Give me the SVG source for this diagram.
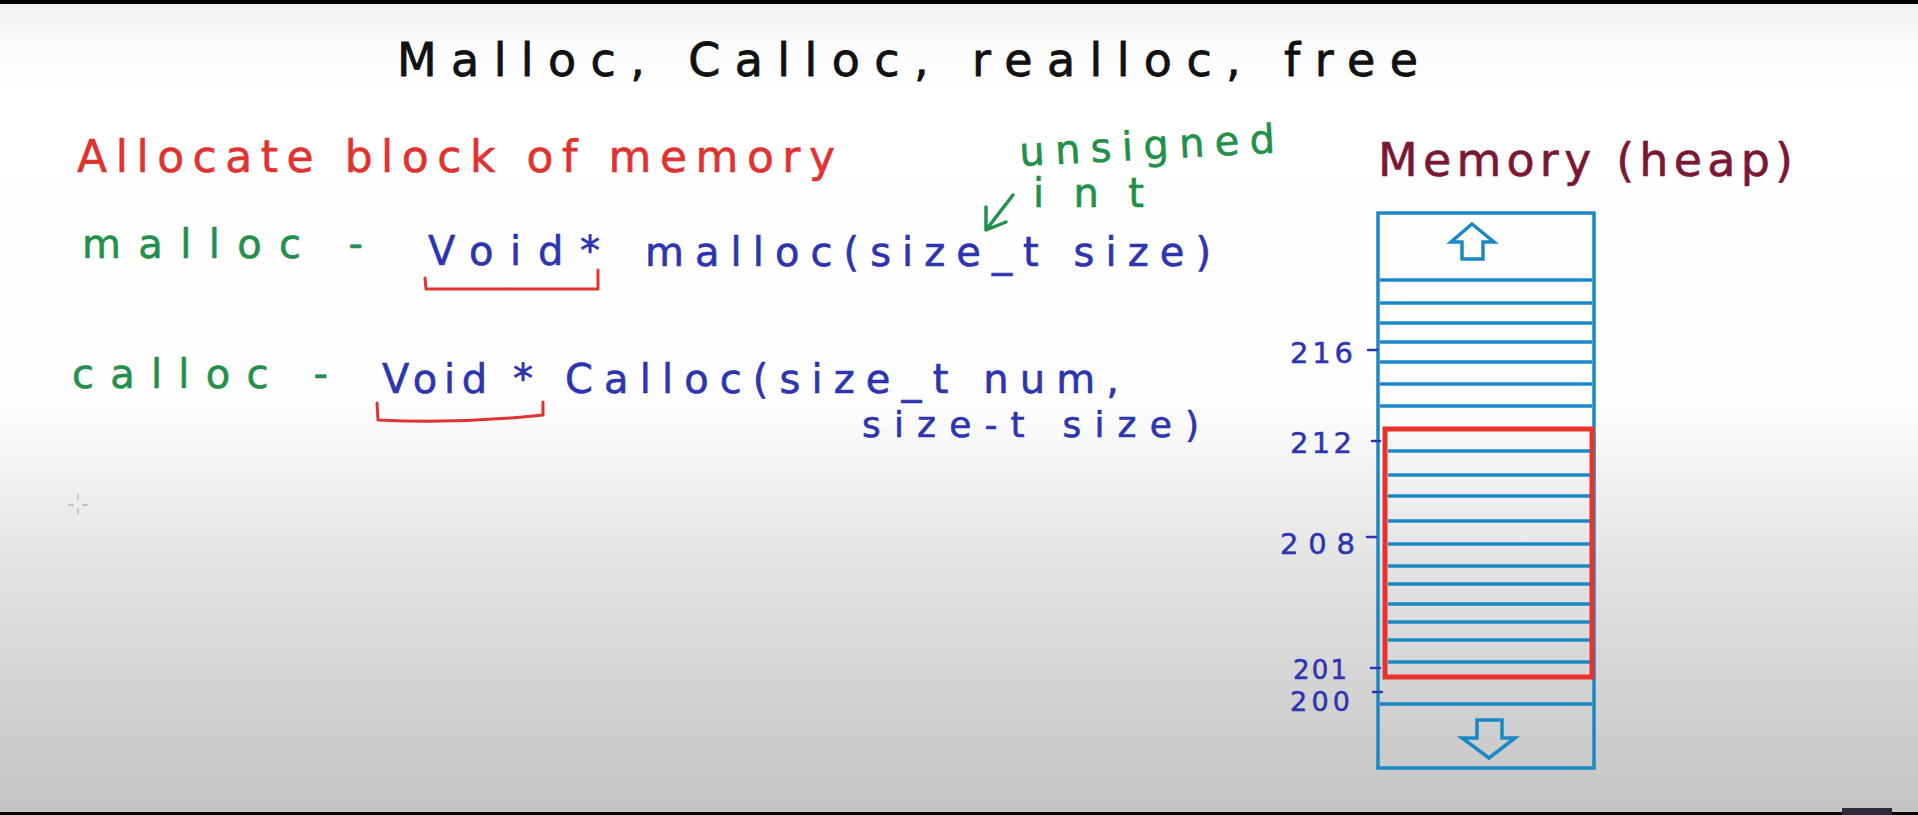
<svg xmlns="http://www.w3.org/2000/svg" width="1918" height="815" viewBox="0 0 1918 815">
<defs>
<linearGradient id="bg" x1="0" y1="0" x2="0" y2="1">
<stop offset="0" stop-color="#efefef"/>
<stop offset="0.05" stop-color="#fbfbfb"/>
<stop offset="0.12" stop-color="#ffffff"/>
<stop offset="0.5" stop-color="#fdfdfd"/>
<stop offset="0.7" stop-color="#e2e2e2"/>
<stop offset="1" stop-color="#c4c4c4"/>
</linearGradient>
<style>
text{font-family:"DejaVu Sans","Liberation Sans",sans-serif;stroke-linejoin:round}
.title{font-size:46px;fill:#111111;stroke:#111111;stroke-width:0.8}
.red{font-size:44px;fill:#e0322e;stroke:#e0322e;stroke-width:0.6}
.green{font-size:40px;fill:#22904a;stroke:#22904a;stroke-width:0.6}
.blue{font-size:40px;fill:#2d34b0;stroke:#2d34b0;stroke-width:0.6}
.maroon{font-size:46px;fill:#7a1733;stroke:#7a1733;stroke-width:0.6}
.num{font-size:29px;fill:#2d34b0;stroke:#2d34b0;stroke-width:0.5}
.mem{fill:none;stroke:#1b88c6;stroke-width:3.5}
.cell{stroke:#1b88c6;stroke-width:3.5}
.brk{fill:none;stroke:#e0322e;stroke-width:3;stroke-linecap:round;stroke-linejoin:round}
.tick{stroke:#2d34b0;stroke-width:2.5;stroke-linecap:round}
</style>
</defs>
<rect x="0" y="0" width="1918" height="815" fill="url(#bg)"/>
<rect x="0" y="0" width="1918" height="4" fill="#000000"/>
<rect x="0" y="812" width="1918" height="3" fill="#000000"/>
<rect x="1842" y="808" width="50" height="7" fill="#2a2a3a"/>

<g id="title">
<text class="title" x="397" y="76" textLength="1021" lengthAdjust="spacing">Malloc, Calloc, realloc, free</text>
</g>

<g id="allocate">
<text class="red" x="77" y="172" textLength="758" lengthAdjust="spacing">Allocate block of memory</text>
</g>

<g id="malloc-line">
<text class="green" x="82" y="258" textLength="281" lengthAdjust="spacing">malloc -</text>
<text class="blue" x="428" y="265" textLength="172" lengthAdjust="spacing">Void*</text>
<path class="brk" d="M425 278 L426 289 L598 289 L598 270"/>
<text class="blue" x="645" y="266" textLength="566" lengthAdjust="spacing">malloc(size_t size)</text>
</g>

<g id="unsigned-note">
<text class="green" x="1020" y="166" textLength="256" lengthAdjust="spacing" transform="rotate(-3 1020 166)">unsigned</text>
<text class="green" x="1033" y="207" textLength="111" lengthAdjust="spacing">int</text>
</g>

<g id="connectors">
<path d="M1013 195 L986 230 M986 207 L986 230 L1006 222" fill="none" stroke="#22904a" stroke-width="3.5" stroke-linecap="round" stroke-linejoin="round"/>
</g>

<g id="calloc-line">
<text class="green" x="72" y="388" textLength="256" lengthAdjust="spacing">calloc -</text>
<text class="blue" x="382" y="393" textLength="151" lengthAdjust="spacing">Void *</text>
<path class="brk" d="M377 403 L378 420 Q460 424 543 415 L543 402"/>
<text class="blue" x="565" y="393" textLength="554" lengthAdjust="spacing">Calloc(size_t num,</text>
<text class="blue" x="862" y="437" textLength="337" lengthAdjust="spacing" style="font-size:36px">size-t size)</text>
</g>

<g id="memory-title">
<text class="maroon" x="1378" y="176" textLength="415" lengthAdjust="spacing">Memory (heap)</text>
</g>

<g id="memory-stack">
<rect class="mem" x="1378" y="213" width="216" height="555"/>
<g class="cell">
<line x1="1380" y1="280" x2="1592" y2="280"/>
<line x1="1380" y1="303" x2="1592" y2="303"/>
<line x1="1380" y1="323" x2="1592" y2="323"/>
<line x1="1380" y1="342" x2="1592" y2="342"/>
<line x1="1380" y1="362" x2="1592" y2="362"/>
<line x1="1380" y1="384" x2="1592" y2="384"/>
<line x1="1380" y1="406" x2="1592" y2="406"/>
<line x1="1388" y1="451" x2="1590" y2="451"/>
<line x1="1388" y1="475" x2="1590" y2="475"/>
<line x1="1388" y1="496" x2="1590" y2="496"/>
<line x1="1388" y1="521" x2="1590" y2="521"/>
<line x1="1388" y1="544" x2="1590" y2="544"/>
<line x1="1388" y1="566" x2="1590" y2="566"/>
<line x1="1388" y1="584" x2="1590" y2="584"/>
<line x1="1388" y1="604" x2="1590" y2="604"/>
<line x1="1388" y1="622" x2="1590" y2="622"/>
<line x1="1388" y1="640" x2="1590" y2="640"/>
<line x1="1388" y1="662" x2="1590" y2="662"/>
<line x1="1380" y1="704" x2="1592" y2="704"/>
</g>
<path class="mem" d="M1472 224 L1494 242 L1483 242 L1483 259 L1462 259 L1462 242 L1451 242 Z" style="fill:#ffffff"/>
<path class="mem" d="M1477 720 L1502 720 L1502 738 L1515 738 L1489 758 L1462 738 L1477 738 Z"/>
</g>

<g id="allocated-block">
<rect x="1385" y="429" width="207" height="248" fill="none" stroke="#e8322c" stroke-width="5"/>
</g>

<g id="addresses">
<text class="num" x="1290" y="363" textLength="63" lengthAdjust="spacing">216</text>
<line class="tick" x1="1368" y1="350" x2="1377" y2="350"/>
<text class="num" x="1290" y="453" textLength="62" lengthAdjust="spacing">212</text>
<line class="tick" x1="1372" y1="441" x2="1380" y2="441"/>
<text class="num" x="1280" y="554" textLength="75" lengthAdjust="spacing">208</text>
<line class="tick" x1="1367" y1="537" x2="1376" y2="537"/>
<text class="num" x="1293" y="679" textLength="54" lengthAdjust="spacing" style="font-size:26px">201</text>
<line class="tick" x1="1371" y1="668" x2="1380" y2="668"/>
<text class="num" x="1290" y="711" textLength="60" lengthAdjust="spacing" style="font-size:27px">200</text>
<line class="tick" x1="1373" y1="692" x2="1382" y2="692"/>
</g>

<g id="cursor" stroke="#9a9a9a" stroke-width="1">
<line x1="78" y1="494" x2="78" y2="500"/>
<line x1="78" y1="508" x2="78" y2="514"/>
<line x1="68" y1="505" x2="74" y2="505"/>
<line x1="82" y1="505" x2="88" y2="505"/>
</g>
</svg>
